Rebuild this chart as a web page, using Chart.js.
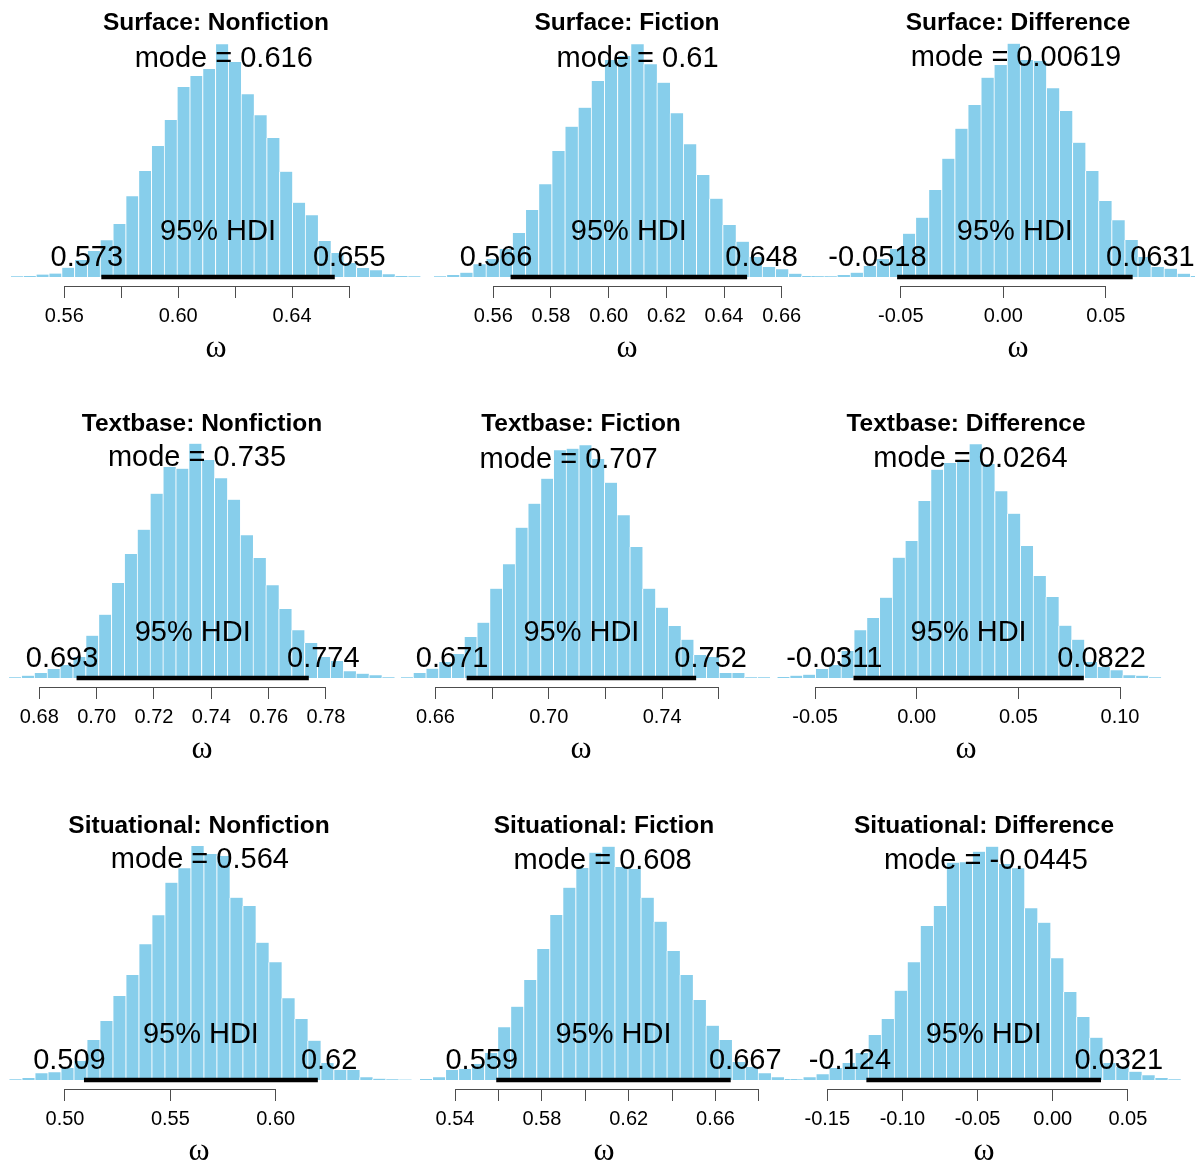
<!DOCTYPE html>
<html>
<head>
<meta charset="utf-8">
<script src="https://cdn.jsdelivr.net/npm/chart.js@4.4.1/dist/chart.umd.min.js"></script>
<style>
  html, body { margin: 0; padding: 0; background: #fff; overflow: hidden; }
  #page { position: relative; width: 1195px; height: 1165px; overflow: hidden; background: #fff; }
  #page canvas { position: absolute; }
</style>
</head>
<body>
<div id="page"></div>
<script>
// ---- Posterior summaries for each panel (row-major: Surface, Textbase, Situational) ----
const titles = [
  'Surface: Nonfiction', 'Surface: Fiction', 'Surface: Difference',
  'Textbase: Nonfiction', 'Textbase: Fiction', 'Textbase: Difference',
  'Situational: Nonfiction', 'Situational: Fiction', 'Situational: Difference'
];
const modeValues = [0.616, 0.61, 0.00619, 0.735, 0.707, 0.0264, 0.564, 0.608, -0.0445];
const hdiLow  = [0.573, 0.566, -0.0518, 0.693, 0.671, -0.0311, 0.509, 0.559, -0.124];
const hdiHigh = [0.655, 0.648, 0.0631, 0.774, 0.752, 0.0822, 0.62, 0.667, 0.0321];

// Histogram bins: left edge of the first bin and the bin width
const binStart = [0.54104, 0.5392, -0.0939, 0.66922, 0.64758, -0.06877, 0.47332, 0.52357, -0.17493];
const binWidth = [0.004502, 0.00456, 0.00638, 0.00449, 0.0045, 0.0063, 0.006167, 0.006, 0.00867];

// Bar heights (relative density) per bin
const surfNonfic = [0.7,1,2.5,3.5,9.3,17,26,36.7,53,80.7,106,131,157,190,201,208,232.7,215,182.7,161.7,139,105.3,74.3,61.7,36,24,14,9,6.7,2.7,1,0.7];
const surfFic    = [0.7,2,4.3,12.7,18,28,44,67,92.7,126,150.3,169.3,196,217,221,232.7,212.7,194.3,163.7,132.7,102,78.3,52,35.3,20,10,7.7,3.3,1,0.5];
const surfDiff   = [0.7,0.7,2,4.3,11,18,28,43.3,59.3,87,118.3,148.3,172,199.3,212,233.3,217,216,188.7,166,134.3,106,76,56.7,37,20,10,8.3,3.3,1];
const textNonfic = [0.7,2.3,5,9,13,21,42.3,63.3,95,124,148.3,184.3,211,209.3,234.3,218,199.7,178.3,142.7,120,92.7,69,47.7,35,21,17,6.7,4.3,2.7,0.7];
const textFic    = [0.7,5,9.3,16,24,41,55.3,89.3,113.7,150.3,174.3,199.3,227.7,229.3,232.7,219,195.3,162.7,131,89.3,70.3,52,38.3,23,21,5,5,0.7,0.7];
const textDiff   = [1,2.3,3.3,9,13,27,47.7,60,80.3,120.3,137,177,208.3,215,217.7,233.7,214,186.7,164.3,132,102,81,52.3,38.3,16,11,7.7,2.7,2.3,0.7];
const sitNonfic  = [0.7,2,6.7,7.7,12,19,40,59,84,105,135.7,164.7,197.3,211.7,234,226,224,182.3,174,137.3,117.7,81.7,61,39.3,17,10,10,2.7,1.3,0.7,0.5];
const sitFic     = [1,2.7,10,11,16,27,52.7,73.3,100,131,165,192.3,212,227.3,233.3,213,211,182.3,158.3,129,105,80,54.3,40,18,13,6.7,2.7,1];
const sitDiff    = [0.7,2.7,5.7,12,17,27,45,61,89.3,117.7,154,174,217.3,217.7,228.3,233.3,216,211.7,171.7,157.3,121.7,88,63,42.3,17,13,8.3,4.7,2,0.7];
const series = [surfNonfic, surfFic, surfDiff, textNonfic, textFic, textDiff, sitNonfic, sitFic, sitDiff];

// Axis ticks and their printed labels ('' = tick mark only)
const tickValues = [
  [0.56, 0.58, 0.60, 0.62, 0.64, 0.66],
  [0.56, 0.58, 0.60, 0.62, 0.64, 0.66],
  [-0.05, 0, 0.05],
  [0.68, 0.70, 0.72, 0.74, 0.76, 0.78],
  [0.66, 0.68, 0.70, 0.72, 0.74, 0.76],
  [-0.05, 0, 0.05, 0.10],
  [0.50, 0.55, 0.60],
  [0.54, 0.56, 0.58, 0.60, 0.62, 0.64, 0.66, 0.68],
  [-0.15, -0.10, -0.05, 0, 0.05]
];
const tickLabels = [
  ['0.56', '', '0.60', '', '0.64', ''],
  ['0.56', '0.58', '0.60', '0.62', '0.64', '0.66'],
  ['-0.05', '0.00', '0.05'],
  ['0.68', '0.70', '0.72', '0.74', '0.76', '0.78'],
  ['0.66', '', '0.70', '', '0.74', ''],
  ['-0.05', '0.00', '0.05', '0.10'],
  ['0.50', '0.55', '0.60'],
  ['0.54', '', '0.58', '', '0.62', '', '0.66', ''],
  ['-0.15', '-0.10', '-0.05', '0.00', '0.05']
];

// ---- Panel placement: centre of each plot, row offset, and axis calibration ----
const panelCenterX = [216, 627, 1018, 201.7, 580.5, 966, 199, 604, 984.4];
const panelTop     = [0, 0, 0, 401, 401, 401, 803, 803, 803];
const axisRefValue = [0.56, 0.56, 0, 0.68, 0.66, 0, 0.50, 0.54, -0.15];
const axisRefPx    = [64.3, 493.3, 1003.3, 39, 435, 916.7, 65, 455, 827.7];
const axisPxPerUnit = [2847, 2884, 2050, 2867, 2833, 2033, 2107, 2171, 1503];

const CANVAS_W = 440, CANVAS_H = 366, AXIS_H = 80;
const SANS = "'Liberation Sans', Arial, Helvetica, sans-serif";
Chart.defaults.font.family = SANS;
Chart.defaults.color = '#000';

// Axis line between first and last tick, plus the mode / HDI annotations
const annotations = {
  id: 'annotations',
  afterDraw(chart, args, opts) {
    const p = opts.panel;
    const { ctx, chartArea } = chart;
    const xs = chart.scales.x, ys = chart.scales.y;
    const t = tickValues[p];
    const align = v => Math.round(v - 0.5) + 0.5;

    ctx.save();
    ctx.strokeStyle = '#4d4d4d';
    ctx.lineWidth = 1;
    const ay = align(chartArea.bottom);
    ctx.beginPath();
    ctx.moveTo(align(xs.getPixelForValue(t[0])) - 0.5, ay);
    ctx.lineTo(align(xs.getPixelForValue(t[t.length - 1])) + 0.5, ay);
    ctx.stroke();

    const y0 = ys.getPixelForValue(0);
    const peak = Math.max(...series[p]);
    ctx.fillStyle = '#000';
    ctx.font = '29px ' + SANS;
    ctx.textBaseline = 'alphabetic';

    ctx.textAlign = 'center';
    ctx.fillText('mode = ' + modeValues[p], xs.getPixelForValue(modeValues[p]), ys.getPixelForValue(0.9 * peak) - 1);
    ctx.fillText('95% HDI', xs.getPixelForValue((hdiLow[p] + hdiHigh[p]) / 2), y0 - 37);

    ctx.textAlign = 'left';
    const lo = String(hdiLow[p]), hi = String(hdiHigh[p]);
    ctx.fillText(lo, xs.getPixelForValue(hdiLow[p]) - 0.7 * ctx.measureText(lo).width, y0 - 11);
    ctx.fillText(hi, xs.getPixelForValue(hdiHigh[p]) - 0.3 * ctx.measureText(hi).width, y0 - 11);
    ctx.restore();
  }
};

const page = document.getElementById('page');

for (let p = 0; p < 9; p++) {
  const canvas = document.createElement('canvas');
  canvas.width = CANVAS_W;
  canvas.height = CANVAS_H;
  const left = panelCenterX[p] - CANVAS_W / 2;
  canvas.style.left = left + 'px';
  canvas.style.top = panelTop[p] + 'px';
  canvas.style.width = CANVAS_W + 'px';
  canvas.style.height = CANVAS_H + 'px';
  page.appendChild(canvas);

  const xMin = axisRefValue[p] + (left - axisRefPx[p]) / axisPxPerUnit[p];
  const xMax = axisRefValue[p] + (left + CANVAS_W - axisRefPx[p]) / axisPxPerUnit[p];

  const bars = series[p].map((h, i) => ({ x: binStart[p] + (i + 0.5) * binWidth[p], y: h }));

  new Chart(canvas, {
    type: 'bar',
    data: {
      datasets: [
        {
          type: 'line',
          data: [{ x: hdiLow[p], y: 0 }, { x: hdiHigh[p], y: 0 }],
          borderColor: '#000',
          borderWidth: 4.5,
          borderCapStyle: 'butt',
          pointRadius: 0,
          order: 0
        },
        {
          type: 'bar',
          data: bars,
          backgroundColor: '#87CEEB',
          borderColor: '#ffffff',
          borderWidth: { left: 1, top: 0, right: 0, bottom: 0 },
          borderSkipped: false,
          barPercentage: 1,
          categoryPercentage: 1,
          order: 1
        }
      ]
    },
    options: {
      responsive: false,
      animation: false,
      events: [],
      layout: { padding: 0 },
      plugins: {
        legend: { display: false },
        tooltip: { enabled: false },
        title: {
          display: true,
          text: titles[p],
          color: '#000',
          font: { family: SANS, size: 24.5, weight: 'bold', lineHeight: 1.2 },
          padding: { top: 9, bottom: 0 }
        },
        annotations: { panel: p }
      },
      scales: {
        x: {
          type: 'linear',
          position: 'bottom',
          min: xMin,
          max: xMax,
          bounds: 'data',
          offset: false,
          afterBuildTicks: scale => { scale.ticks = tickValues[p].map(v => ({ value: v })); },
          afterFit: scale => { scale.height = AXIS_H; },
          grid: {
            display: true,
            drawOnChartArea: false,
            drawTicks: true,
            tickLength: 12,
            offset: false,
            color: '#4d4d4d',
            lineWidth: 1
          },
          border: { display: false },
          ticks: {
            autoSkip: false,
            maxRotation: 0,
            minRotation: 0,
            padding: 6,
            color: '#000',
            font: { family: SANS, size: 20 },
            callback: (value, index) => tickLabels[p][index]
          },
          title: {
            display: true,
            text: 'ω',
            color: '#000',
            font: { family: "'Liberation Serif', 'DejaVu Serif', serif", size: 32, lineHeight: 1 },
            padding: { top: 0, bottom: 1 }
          }
        },
        y: {
          display: false,
          min: -9,
          max: 238.6
        }
      }
    },
    plugins: [annotations]
  });
}
</script>
</body>
</html>
